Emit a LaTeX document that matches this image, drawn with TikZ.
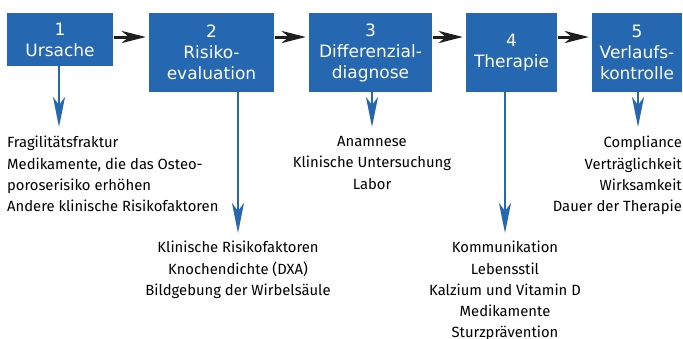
\documentclass[tikz,border=0pt]{standalone}
\usepackage{fontspec}
\setmainfont{Fira Sans}
\newfontfamily\boxfont{DejaVu Sans}
\usetikzlibrary{arrows.meta}
\definecolor{boxblue}{RGB}{38,103,177}
\definecolor{arrowblack}{RGB}{30,30,30}
\begin{document}
\begin{tikzpicture}[x=1pt,y=-1pt,
  box/.style={fill=boxblue,text=white,draw=none,inner sep=0pt,align=center,
    font=\boxfont\fontsize{17}{21}\selectfont},
  flowarrow/.style={draw=arrowblack,line width=3pt,
    -{Stealth[length=24pt,width=12pt,inset=7pt]}},
  downarrow/.style={draw=boxblue,line width=2.6pt,
    -{Stealth[length=30pt,width=12pt,inset=8pt]}},
  listtext/.style={inner sep=0pt,font=\fontsize{14.8}{21.3}\selectfont}]
\useasboundingbox (0,0) rectangle (683,338);
\node[box,minimum width=106pt,minimum height=53pt] (b1) at (60,39.5) {1\\Ursache};
\node[box,minimum width=125pt,minimum height=79pt] (b2) at (211.5,52.5) {2\\Risiko-\\evaluation};
\node[box,minimum width=123pt,minimum height=79pt] (b3) at (370.5,52.5) {3\\Differenzial-\\diagnose};
\node[box,minimum width=91pt,minimum height=79pt] (b4) at (511.5,52.5) {4\\Therapie};
\node[box,minimum width=90pt,minimum height=79pt] (b5) at (637,52.5) {5\\Verlaufs-\\kontrolle};
\coordinate (yline) at (0,37);
\draw[flowarrow,shorten <=1pt,shorten >=3pt] (b1.east |- yline) -- (b2.west |- yline);
\draw[flowarrow,shorten <=1pt,shorten >=3pt] (b2.east |- yline) -- (b3.west |- yline);
\draw[flowarrow,shorten <=1pt,shorten >=3pt] (b3.east |- yline) -- (b4.west |- yline);
\draw[flowarrow,shorten <=1pt,shorten >=3pt] (b4.east |- yline) -- (b5.west |- yline);
\node[listtext,anchor=north west,align=left] (l1) at (7,136) {Fragilitätsfraktur\\Medikamente, die das Osteo-\\poroserisiko erhöhen\\Andere klinische Risikofaktoren};
\node[listtext,anchor=north,align=center] (l2) at (238,241) {Klinische Risikofaktoren\\Knochendichte (DXA)\\Bildgebung der Wirbelsäule};
\node[listtext,anchor=north,align=center] (l3) at (372,136) {Anamnese\\Klinische Untersuchung\\Labor};
\node[listtext,anchor=north,align=center] (l4) at (505,241) {Kommunikation\\Lebensstil\\Kalzium und Vitamin D\\Medikamente\\Sturzprävention};
\node[listtext,anchor=north east,align=right] (l5) at (682,136) {Compliance\\Verträglichkeit\\Wirksamkeit\\Dauer der Therapie};
\coordinate (e1) at (59,127);
\coordinate (e2) at (238,233);
\coordinate (e3) at (372,127);
\coordinate (e4) at (505,233);
\coordinate (e5) at (638,127);
\draw[downarrow] (b1.south -| e1) -- (e1);
\draw[downarrow] (b2.south -| e2) -- (e2);
\draw[downarrow] (b3.south -| e3) -- (e3);
\draw[downarrow] (b4.south -| e4) -- (e4);
\draw[downarrow] (b5.south -| e5) -- (e5);
\end{tikzpicture}
\end{document}
